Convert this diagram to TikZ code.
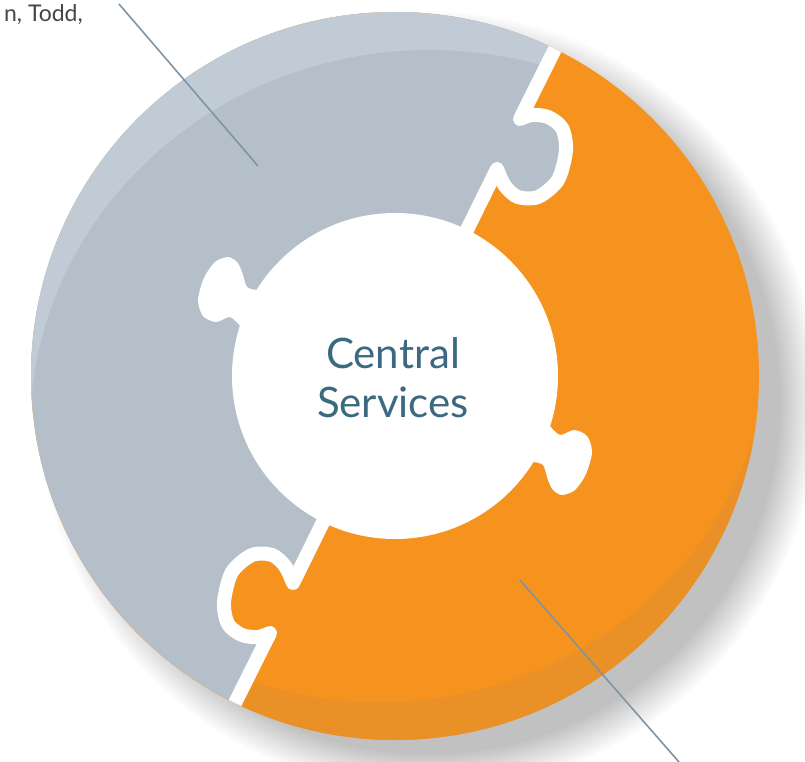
\documentclass[tikz,border=0pt]{standalone}
\usepackage{fontspec}
\setmainfont{Lato}
\definecolor{ringgray}{HTML}{B5BFCA}
\definecolor{ringgraylight}{HTML}{C1CBD5}
\definecolor{ringorange}{HTML}{F6931F}
\definecolor{ringorangedark}{HTML}{E99126}
\definecolor{txtblue}{HTML}{3B6A80}
\definecolor{leadercol}{HTML}{7E94A5}
\definecolor{txtgray}{HTML}{454545}
\newcommand{\dividerpath}{(571,17) -- (520,119) -- plot[smooth] coordinates {(520,119) (532,115) (548,117) (562,128) (566,150) (558,180) (538,197) (518,197) (505,186) (497,169)} -- (395,376) -- plot[smooth] coordinates {(293,583) (285,566) (272,555) (252,555) (232,572) (224,602) (228,624) (242,635) (258,637) (270,633)} -- (219,735)}
\newcommand{\grayregion}{\dividerpath -- (-20,800) -- (-20,-50) -- (600,-50) -- cycle}
\tikzset{
  bandline/.style={white, line width=14pt, line join=round, line cap=round},
  leaderline/.style={leadercol, line width=1.6pt},
  knobfill/.style={fill=white},
}
\begin{document}
\begin{tikzpicture}[x=1pt,y=-1pt]
\useasboundingbox (0,0) rectangle (805,762);
\coordinate (C) at (395,376);
% drop shadow
\foreach \r in {0,...,30}{\fill[black,opacity=0.009] (428,402) circle ({352pt+1.3pt*\r});}
% ring
\fill[ringorange] (C) circle (364pt);
\begin{scope}
  \clip (C) circle (364pt);
  \fill[ringorangedark,even odd rule] (C) circle (370pt) (380,330) ellipse [x radius=390pt, y radius=372pt];
  \fill[ringgray] \grayregion;
  \begin{scope}
    \clip \grayregion;
    \fill[ringgraylight,even odd rule] (C) circle (370pt) (430,430) ellipse [x radius=400pt, y radius=380pt];
  \end{scope}
  \draw[bandline] \dividerpath;
\end{scope}
% centre disc with knobs
\fill[white] (C) circle (163pt);
\path[knobfill] (257,290) -- plot[smooth] coordinates {(257,290) (247,287) (242,272) (237,262) (228,257) (215,262) (204,278) (198,300) (203,316) (216,322) (230,317) (240,326)} -- (270,330) -- cycle;
\path[knobfill] (533,462) -- plot[smooth] coordinates {(533,462) (543,465) (548,480) (553,490) (562,495) (575,490) (586,474) (592,452) (587,436) (574,430) (560,435) (550,426)} -- (520,422) -- cycle;
% text
\node[anchor=base, inner sep=0, text=txtblue, font=\fontsize{42}{48}\selectfont] (c1) at (393,368) {Central};
\node[anchor=base, inner sep=0, text=txtblue, font=\fontsize{42}{48}\selectfont] (c2) at (393,417) {Services};
\node[anchor=base east, inner sep=0, text=txtgray, font=\fontsize{23}{26}\selectfont] (todd) at (83,22) {n, Todd,};
% leaders
\coordinate (l1a) at (119,4);
\coordinate (l1b) at (258,166);
\coordinate (l2a) at (520,580);
\coordinate (l2b) at (679,762);
\draw[leaderline] (l1a) -- (l1b);
\draw[leaderline] (l2a) -- (l2b);
\end{tikzpicture}
\end{document}
